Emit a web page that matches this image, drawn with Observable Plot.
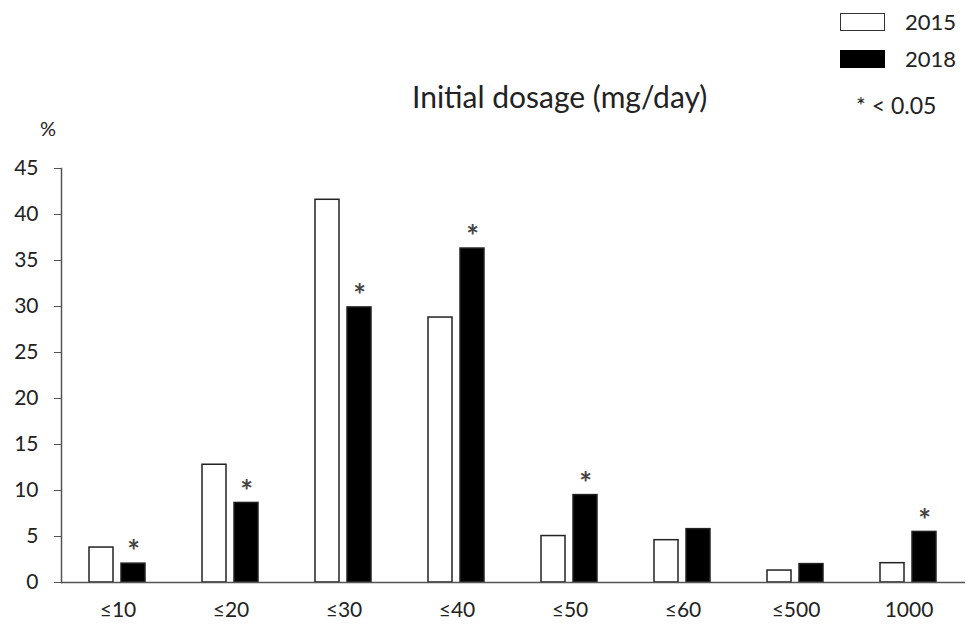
<!DOCTYPE html>
<html>
<head>
<meta charset="utf-8">
<script src="https://cdn.jsdelivr.net/npm/d3@7"></script>
<script src="https://cdn.jsdelivr.net/npm/@observablehq/plot@0.6"></script>
<style>
  body { margin: 0; background: #fff; }
  #wrap { position: relative; width: 966px; height: 627px; font-family: Lato, "Open Sans", sans-serif; color: #222; }
  #chart { position: absolute; left: 0; top: 0; }
  .abs { position: absolute; white-space: nowrap; line-height: 1; }
  .box { position: absolute; width: 45px; height: 18px; border: 1.5px solid #333; box-sizing: border-box; }
</style>
</head>
<body>
<div id="wrap">
  <div id="chart"></div>
  <div class="abs" id="title" style="left:412px; top:81px; font-size:30px;">Initial dosage (mg/day)</div>
  <div class="abs" style="left:40px; top:118px; font-size:20px;">%</div>
  <div class="box" style="left:840px; top:13px; background:#fff;"></div>
  <div class="abs" style="left:905px; top:11px; font-size:22px;">2015</div>
  <div class="box" style="left:840px; top:50px; background:#000; border-color:#000;"></div>
  <div class="abs" style="left:905px; top:48px; font-size:22px;">2018</div>
  <div class="abs" style="left:856px; top:94px; font-size:23px;">* &lt; 0.05</div>
</div>
<script>
const categories = ["≤10", "≤20", "≤30", "≤40", "≤50", "≤60", "≤500", "1000"];
const years = ["2015", "2018"];
const values2015 = [3.8, 12.8, 41.6, 28.8, 5.05, 4.6, 1.3, 2.1];
const values2018 = [2.05, 8.65, 29.9, 36.3, 9.5, 5.8, 2.0, 5.5];
const significant2018 = [true, true, true, true, true, false, false, true];
const yTicks = [0, 5, 10, 15, 20, 25, 30, 35, 40, 45];

const data = [];
categories.forEach((c, i) => {
  data.push({cat: c, year: "2015", value: values2015[i]});
  data.push({cat: c, year: "2018", value: values2018[i], sig: significant2018[i]});
});
const sigData = data.filter(d => d.sig);

const chart = Plot.plot({
  width: 966,
  height: 627,
  marginLeft: 60,
  marginRight: 0,
  marginTop: 168,
  marginBottom: 45,
  style: {fontFamily: "Lato, 'Open Sans', sans-serif", fontSize: "21px", color: "#222", background: "transparent"},
  fx: {domain: categories, padding: 0, label: null},
  x: {domain: years, paddingInner: 0.24, paddingOuter: 0.835, axis: null},
  y: {domain: [0, 45], label: null},
  color: {domain: years, range: ["#ffffff", "#000000"]},
  marks: [
    Plot.barY(data, {fx: "cat", x: "year", y: "value", fill: "year", stroke: "#222", strokeWidth: 1.5}),
    Plot.ruleY([0], {stroke: "#555", strokeWidth: 1.5}),
    Plot.text(sigData, {fx: "cat", x: "year", y: "value", text: () => "*", dy: -11, fontSize: 30, fontWeight: "bold", fill: "#444"}),
    Plot.axisY({ticks: yTicks, tickSize: 7, tickPadding: 16, fontSize: 21, label: null, stroke: "#555"}),
    Plot.axisFx({anchor: "bottom", tickSize: 0, tickPadding: 20, fontSize: 21, label: null}),
    Plot.frame({anchor: "left", facetAnchor: "left", stroke: "#555", strokeWidth: 1.5})
  ]
});
document.getElementById("chart").appendChild(chart);
</script>
</body>
</html>
